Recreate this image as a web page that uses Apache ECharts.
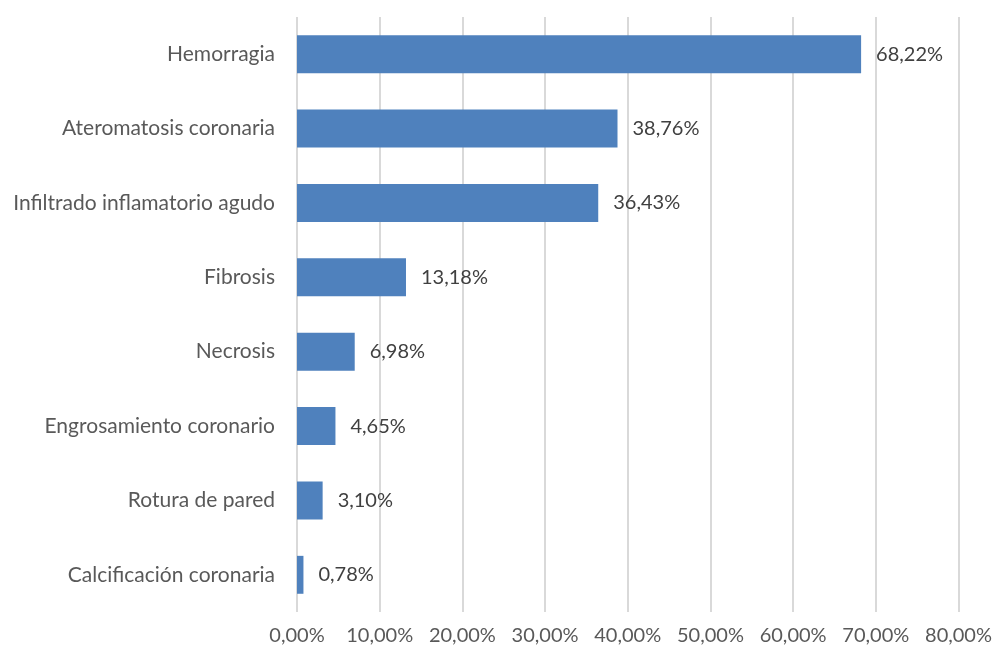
<!DOCTYPE html>
<html>
<head>
<meta charset="utf-8">
<script src="https://cdn.jsdelivr.net/npm/echarts@6/dist/echarts.min.js"></script>
<style>
  html, body { margin: 0; padding: 0; background: #fff; }
  #chart { width: 995px; height: 652px; }
</style>
</head>
<body>
<div id="chart"></div>
<script>
// Hallazgos histopatológicos (porcentaje de casos)
const categories = [
  'Hemorragia',
  'Ateromatosis coronaria',
  'Infiltrado inflamatorio agudo',
  'Fibrosis',
  'Necrosis',
  'Engrosamiento coronario',
  'Rotura de pared',
  'Calcificación coronaria'
];
const percentages = [68.22, 38.76, 36.43, 13.18, 6.98, 4.65, 3.10, 0.78];
const axisTicks = [0, 10, 20, 30, 40, 50, 60, 70, 80];

const fmt = v => v.toFixed(2).replace('.', ',') + '%';
const FONT = 'Lato, "Open Sans", sans-serif';

const chart = echarts.init(document.getElementById('chart'), null, { renderer: 'canvas' });
chart.setOption({
  animation: false,
  backgroundColor: '#ffffff',
  grid: { left: 297, right: 36, top: 17, bottom: 40, containLabel: false },
  xAxis: {
    type: 'value',
    min: axisTicks[0],
    max: axisTicks[axisTicks.length - 1],
    interval: axisTicks[1] - axisTicks[0],
    axisLine: { show: false },
    axisTick: { show: false },
    splitLine: { show: true, lineStyle: { color: '#d9d9d9', width: 2 } },
    axisLabel: {
      margin: 14,
      color: '#595959',
      fontFamily: FONT,
      fontSize: 20,
      formatter: v => fmt(v)
    }
  },
  yAxis: {
    type: 'category',
    inverse: true,
    data: categories,
    axisLine: { show: false },
    axisTick: { show: false },
    splitLine: { show: false },
    axisLabel: {
      margin: 22,
      color: '#595959',
      fontFamily: FONT,
      fontSize: 21
    }
  },
  series: [{
    type: 'bar',
    data: percentages,
    barWidth: '51%',
    itemStyle: { color: '#4f81bd' },
    label: {
      show: true,
      position: 'right',
      distance: 15,
      color: '#404040',
      fontFamily: FONT,
      fontSize: 20,
      formatter: p => fmt(p.value)
    }
  }]
});
</script>
</body>
</html>
